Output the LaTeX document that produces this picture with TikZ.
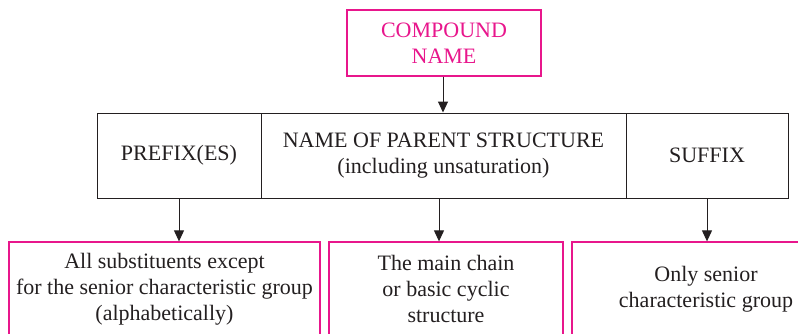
\documentclass[tikz,border=0pt]{standalone}
\usepackage{fontspec}
\setmainfont{Liberation Serif}
\usetikzlibrary{arrows.meta}
\definecolor{pinkc}{RGB}{232,22,140}
\definecolor{inkc}{RGB}{35,31,32}
\begin{document}
\begin{tikzpicture}[x=1pt,y=-1pt,
  blackbox/.style={draw=inkc,line width=1pt,rectangle,inner sep=0pt,align=center,text=inkc,font=\fontsize{22}{26}\selectfont},
  pinkbox/.style={draw=pinkc,line width=1.3pt,rectangle,inner sep=0pt,align=center,text=inkc,font=\fontsize{22}{26}\selectfont},
  arr/.style={draw=inkc,line width=1pt,-{Triangle[length=11pt,width=10pt]}}]
\useasboundingbox (0,0) rectangle (798,333);
\clip (0,0) rectangle (798,333);
\node[pinkbox,text=pinkc,minimum width=194pt,minimum height=66pt] (cn) at (444,43) {COMPOUND\\NAME};
\node[blackbox,minimum width=164pt,minimum height=85pt] (pre) at (179,155.5) {PREFIX(ES)};
\node[blackbox,minimum width=365pt,minimum height=85pt] (par) at (443.5,155.5) {NAME OF PARENT STRUCTURE\\(including unsaturation)};
\node[blackbox,minimum width=162pt,minimum height=85pt] (suf) at (707,155.5) {SUFFIX};
\node[pinkbox,minimum width=311pt,minimum height=94pt] (b1) at (164.5,289) {All substituents except\\for the senior characteristic group\\(alphabetically)};
\node[pinkbox,minimum width=234pt,minimum height=94pt] (b2) at (446,289) {The main chain\\or basic cyclic\\structure};
\node[pinkbox,minimum width=268pt,minimum height=94pt] (b3) at (706,289) {Only senior\\characteristic group};
\draw[arr] ([xshift=-1pt]cn.south) -- ([xshift=-1pt]cn.south |- par.north);
\draw[arr] (pre.south) -- (pre.south |- b1.north);
\draw[arr] ([xshift=-4.5pt]par.south) -- ([xshift=-4.5pt]par.south |- b2.north);
\draw[arr] (suf.south) -- (suf.south |- b3.north);
\end{tikzpicture}
\end{document}
